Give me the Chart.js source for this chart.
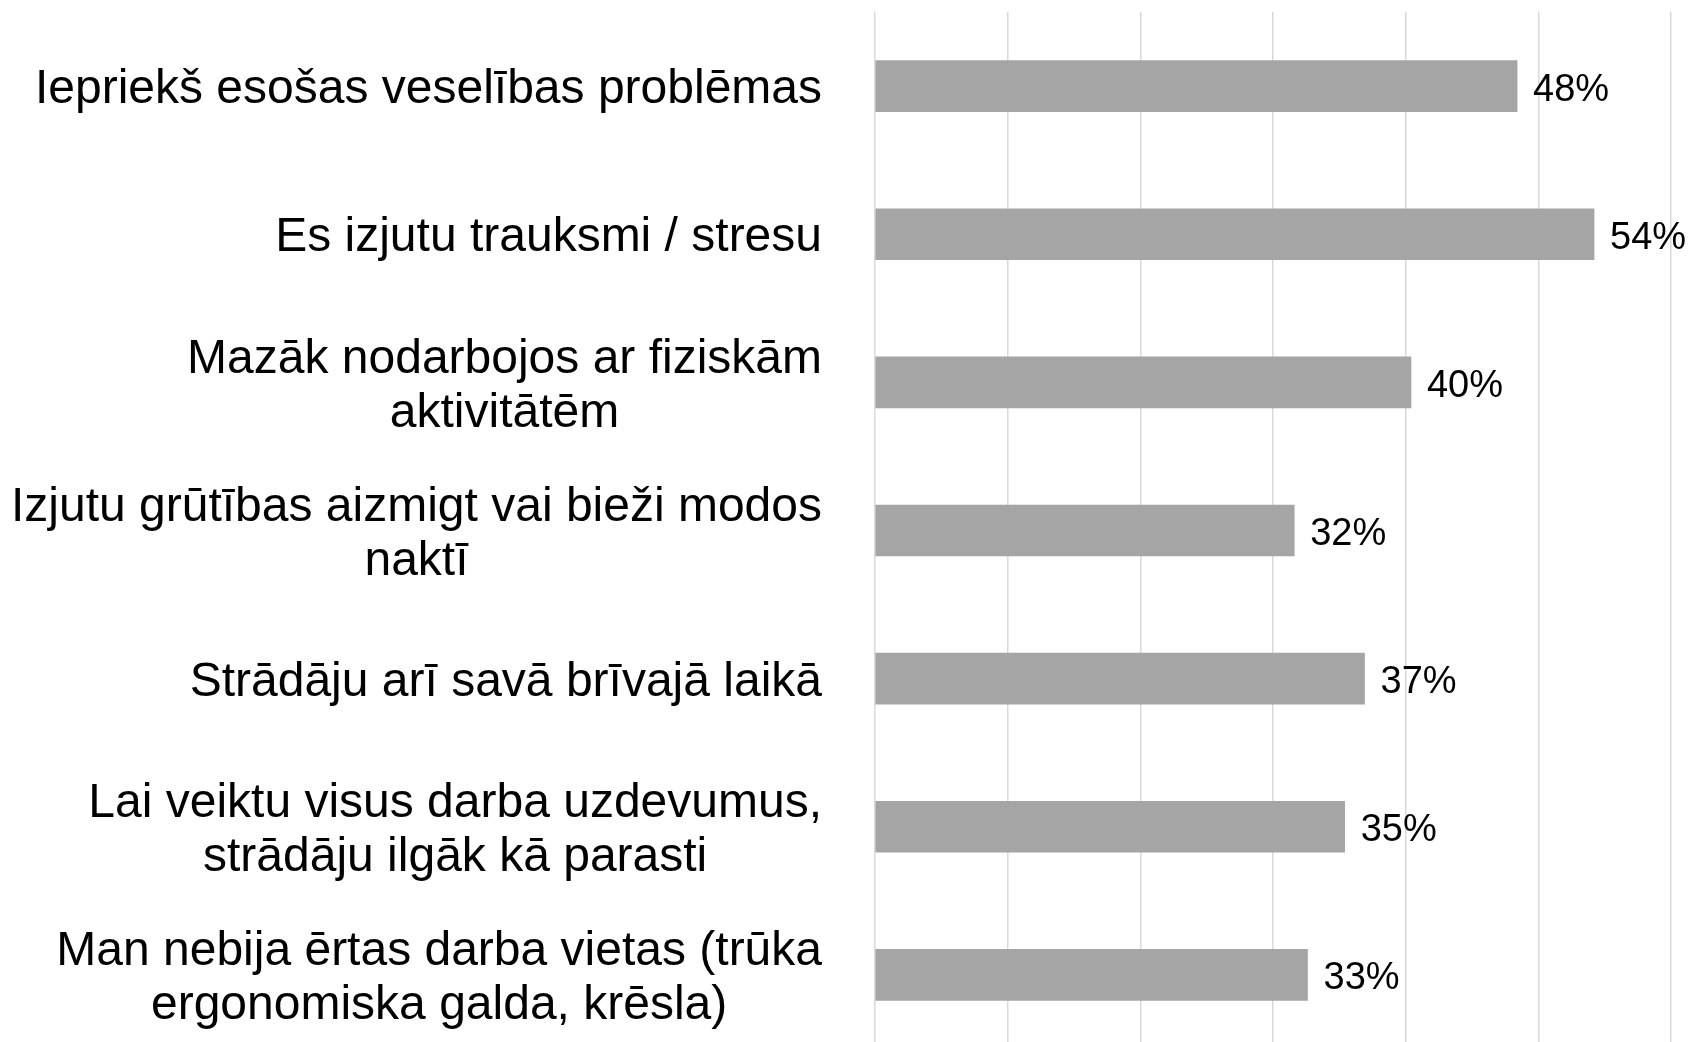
<!DOCTYPE html>
<html>
<head>
<meta charset="utf-8">
<script src="https://cdn.jsdelivr.net/npm/chart.js@4/dist/chart.umd.min.js"></script>
<style>
  html, body { margin: 0; padding: 0; background: #fff; overflow: hidden; }
  #wrap { width: 1688px; height: 1049px; position: relative; }
</style>
</head>
<body>
<div id="wrap"><canvas id="myChart"></canvas></div>
<script>
// category labels (each entry = lines of the label)
var categories = [
    ['Iepriekš esošas veselības problēmas'],
    ['Es izjutu trauksmi / stresu'],
    ['Mazāk nodarbojos ar fiziskām', 'aktivitātēm'],
    ['Izjutu grūtības aizmigt vai bieži modos', 'naktī'],
    ['Strādāju arī savā brīvajā laikā'],
    ['Lai veiktu visus darba uzdevumus,', 'strādāju ilgāk kā parasti'],
    ['Man nebija ērtas darba vietas (trūka', 'ergonomiska galda, krēsla)']
];
// bar lengths, labels show them rounded
var values = [48.4, 54.2, 40.4, 31.6, 36.9, 35.4, 32.6];
var xMin = 0;
var xMax = 60;
var xStep = 10;

var FONT = '"Liberation Sans", Arial, sans-serif';

// y labels: block right-aligned, lines centred inside the block
var catLabels = {
    id: 'catLabels',
    afterDraw: function(chart) {
        var ctx = chart.ctx;
        var yScale = chart.scales.y;
        var right = chart.chartArea.left - 53;
        var lineH = 54;
        ctx.save();
        ctx.font = '48px ' + FONT;
        ctx.fillStyle = '#000';
        ctx.textAlign = 'center';
        ctx.textBaseline = 'middle';
        categories.forEach(function(lines, i) {
            var y = yScale.getPixelForTick(i) + 4;
            var maxW = 0;
            lines.forEach(function(l) { maxW = Math.max(maxW, ctx.measureText(l).width); });
            var cx = right - maxW / 2;
            var y0 = y - (lines.length - 1) * lineH / 2;
            lines.forEach(function(l, j) { ctx.fillText(l, cx, y0 + j * lineH); });
        });
        ctx.restore();
    }
};

// value labels at the bar ends
var valueLabels = {
    id: 'valueLabels',
    afterDatasetsDraw: function(chart) {
        var ctx = chart.ctx;
        var meta = chart.getDatasetMeta(0);
        ctx.save();
        ctx.font = '38px ' + FONT;
        ctx.fillStyle = '#000';
        ctx.textAlign = 'left';
        ctx.textBaseline = 'middle';
        meta.data.forEach(function(bar, i) {
            ctx.fillText(Math.round(values[i]) + '%', bar.x + 16, bar.y + 4);
        });
        ctx.restore();
    }
};

var ctx = document.getElementById('myChart');

var myBarChart = new Chart(ctx, {
    type: 'bar',
    data: {
        labels: categories,
        datasets: [{
            data: values,
            backgroundColor: '#a5a5a5',
            borderWidth: 0,
            barThickness: 51
        }]
    },
    options: {
        indexAxis: 'y',
        responsive: true,
        maintainAspectRatio: false,
        animation: false,
        layout: { padding: { top: 12, right: 17, bottom: 0, left: 0 } },
        plugins: {
            legend: { display: false },
            tooltip: { enabled: false }
        },
        scales: {
            x: {
                min: xMin,
                max: xMax,
                ticks: { stepSize: xStep, display: false },
                grid: { color: '#d9d9d9', lineWidth: 1.5, drawTicks: false },
                border: { display: false }
            },
            y: {
                ticks: { display: false },
                grid: { display: false, drawTicks: false },
                border: { display: false },
                afterFit: function(scale) { scale.width = 875; }
            }
        }
    },
    plugins: [catLabels, valueLabels]
});
</script>
</body>
</html>
